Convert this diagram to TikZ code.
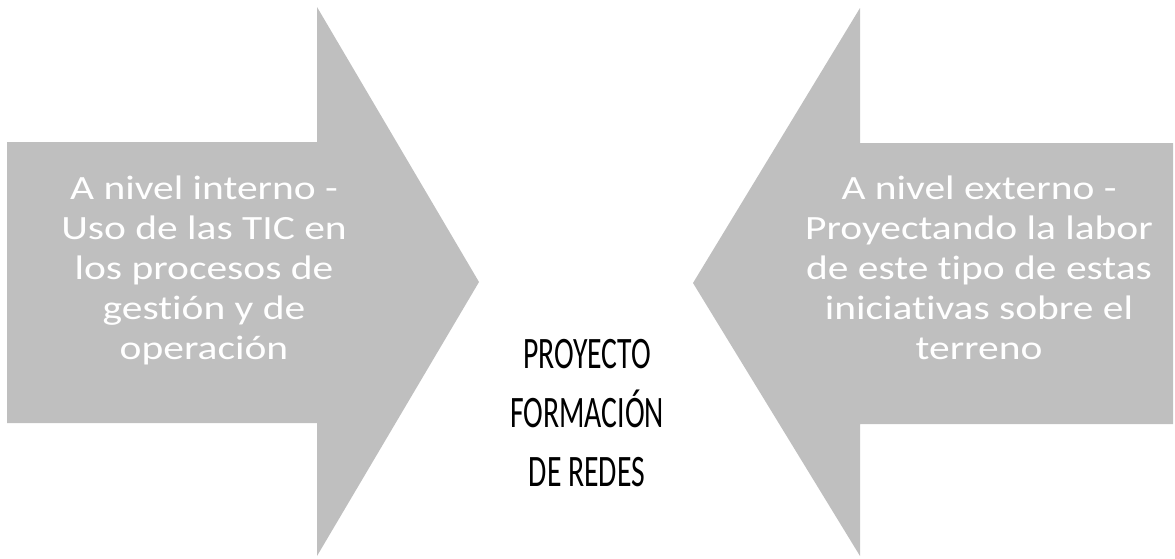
\documentclass[tikz,border=0pt]{standalone}
\usepackage{fontspec}
\setmainfont{Carlito}
\newfontfamily\sidefont[FakeStretch=1.22,Ligatures=NoCommon]{Carlito}
\newfontfamily\midfont[FakeStretch=0.66,Ligatures=NoCommon]{Carlito}
\definecolor{arrowgray}{RGB}{191,191,191}
\tikzset{
  bigarrow/.style={fill=arrowgray, draw=none},
  sidetext/.style={text=white, align=center, font=\sidefont\fontsize{34}{40}\selectfont, inner sep=0pt},
  midtext/.style={text=black, align=center, font=\midfont\fontsize{45}{59}\selectfont, inner sep=0pt}
}
\begin{document}
\begin{tikzpicture}[x=1pt,y=-1pt]
\useasboundingbox (0,0) rectangle (1175,558);
% left arrow
\coordinate (L1) at (7,142);
\coordinate (L2) at (317,142);
\coordinate (L3) at (317,7);
\coordinate (Ltip) at (479,282);
\coordinate (L4) at (317,556);
\coordinate (L5) at (317,423);
\coordinate (L6) at (7,423);
\fill[bigarrow] (L1) -- (L2) -- (L3) -- (Ltip) -- (L4) -- (L5) -- (L6) -- cycle;
% right arrow
\coordinate (R1) at (1173,143);
\coordinate (R2) at (860,143);
\coordinate (R3) at (860,8);
\coordinate (Rtip) at (693,283);
\coordinate (R4) at (860,556);
\coordinate (R5) at (860,424);
\coordinate (R6) at (1173,424);
\fill[bigarrow] (R1) -- (R2) -- (R3) -- (Rtip) -- (R4) -- (R5) -- (R6) -- cycle;
% texts
\node[sidetext, anchor=base] (lt) at (204,359) {A nivel interno -\\Uso de las TIC en\\los procesos de\\gestión y de\\operación};
\node[sidetext, anchor=base] (rt) at (979,359) {A nivel externo -\\Proyectando la labor\\de este tipo de estas\\iniciativas sobre el\\terreno};
\node[midtext, anchor=base] (mt) at (587,486) {PROYECTO\\FORMACIÓN\\DE REDES};
\end{tikzpicture}
\end{document}
